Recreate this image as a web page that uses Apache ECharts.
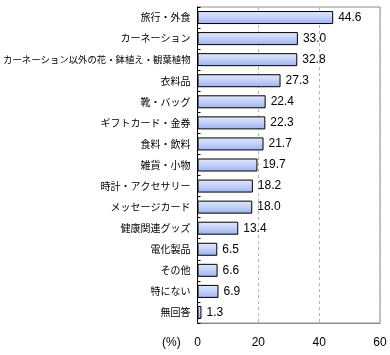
<!DOCTYPE html>
<html><head><meta charset="utf-8">
<script src="https://cdn.jsdelivr.net/npm/echarts@6/dist/echarts.min.js"></script>
<style>html,body{margin:0;padding:0;background:#fff}#c{width:390px;height:355px}</style>
</head><body><div id="c"></div>
<script>
var categories = ['旅行・外食','カーネーション','カーネーション以外の花・鉢植え・観葉植物','衣料品','靴・バッグ','ギフトカード・金券','食料・飲料','雑貨・小物','時計・アクセサリー','メッセージカード','健康関連グッズ','電化製品','その他','特にない','無回答'];
var values = [44.6,33.0,32.8,27.3,22.4,22.3,21.7,19.7,18.2,18.0,13.4,6.5,6.6,6.9,1.3];
var xTicks = [0,20,40,60];
var unitLabel = '(%)';

var chart = echarts.init(document.getElementById('c'), null, {renderer:'canvas'});
chart.setOption({
  animation:false,
  grid:{left:197,right:10,top:7,bottom:32,show:true,borderColor:'#8c8c8c',borderWidth:1},
  xAxis:{type:'value',min:xTicks[0],max:xTicks[xTicks.length-1],interval:20,
    axisLine:{show:true,lineStyle:{color:'#8c8c8c'}},
    axisTick:{show:false},
    axisLabel:{color:'#000',fontSize:12,fontFamily:'Liberation Sans',margin:14},
    splitLine:{show:true,lineStyle:{color:'#b4b4b4',type:[3,3]}}},
  yAxis:{type:'category',data:categories,inverse:true,
    axisLine:{show:true,lineStyle:{color:'#000'}},
    axisTick:{show:true,inside:true,length:3,lineStyle:{color:'#000'}},
    axisLabel:{color:'#000',fontSize:10,fontFamily:'Noto Sans CJK JP',margin:7,
      formatter:function(v){return v.length>15?'{s|'+v+'}':v;},
      rich:{s:{fontSize:9.4,fontFamily:'Noto Sans CJK JP',color:'#000'}}}},
  graphic:[{type:'text',left:162,top:337,style:{text:unitLabel,fill:'#000',font:'12px "Liberation Sans"'}}],
  series:[{type:'bar',data:values,barWidth:13,
    itemStyle:{borderColor:'#000',borderWidth:1,
      color:new echarts.graphic.LinearGradient(0,0,0,1,[
        {offset:0,color:'#e2e9fd'},{offset:0.5,color:'#c2d0f8'},{offset:1,color:'#9eb1ec'}])},
    label:{show:true,position:'right',distance:5,color:'#000',fontSize:12,fontFamily:'Liberation Sans',
      formatter:function(p){return p.value.toFixed(1);}}}]
});
</script></body></html>
